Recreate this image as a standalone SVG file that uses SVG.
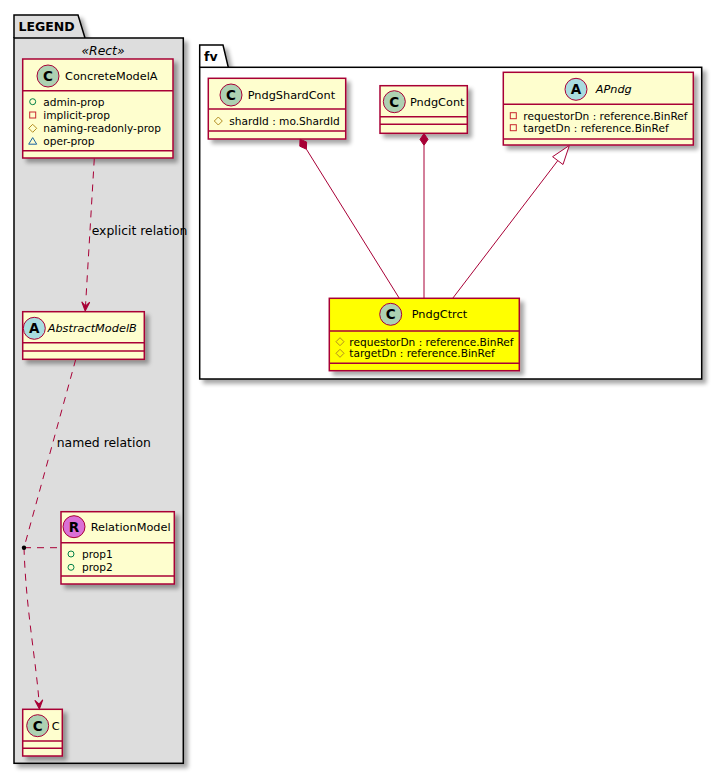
<svg xmlns="http://www.w3.org/2000/svg" width="722" height="775" viewBox="0 0 722 775">
<defs>
<filter id="sh" x="-20%" y="-20%" width="150%" height="150%">
<feGaussianBlur in="SourceAlpha" stdDeviation="2"/>
<feOffset dx="4" dy="4"/>
<feComponentTransfer><feFuncA type="linear" slope="0.35"/></feComponentTransfer>
<feMerge><feMergeNode/><feMergeNode in="SourceGraphic"/></feMerge>
</filter>
<style>
.box{fill:#FEFECE;stroke:#A80036;stroke-width:1.5;filter:url(#sh)}
.ybox{fill:#FFFF00;stroke:#A80036;stroke-width:1.5;filter:url(#sh)}
.div{stroke:#A80036;stroke-width:1.5}
.pkg{stroke:#000000;stroke-width:1.5}
.cC{fill:#ADD1B2;stroke:#A80036;stroke-width:1}
.cA{fill:#A9DCDF;stroke:#A80036;stroke-width:1}
.cR{fill:#DA70D6;stroke:#A80036;stroke-width:1}
.letter{font-family:"DejaVu Sans",sans-serif;font-weight:bold;font-size:13.5px;text-anchor:middle;fill:#000}
.name{font-family:"DejaVu Sans",sans-serif;font-size:11.3px;fill:#000}
.it{font-style:italic}
.attr{font-family:"DejaVu Sans",sans-serif;font-size:10.6px;fill:#000}
.lbl{font-family:"DejaVu Sans",sans-serif;font-size:12.4px;fill:#000}
.ptitle{font-family:"DejaVu Sans",sans-serif;font-weight:bold;font-size:12.5px;fill:#000}
.pub{fill:none;stroke:#038048;stroke-width:1}
.priv{fill:none;stroke:#C82930;stroke-width:1}
.prot{fill:none;stroke:#B38D22;stroke-width:1}
.pack{fill:none;stroke:#1963A0;stroke-width:1}
.dash{fill:none;stroke:#A80036;stroke-width:1;stroke-dasharray:7,6}
.solid{fill:none;stroke:#A80036;stroke-width:1}
.head{fill:#A80036;stroke:#A80036;stroke-width:1}
</style>
</defs>
<rect width="722" height="775" fill="#FFFFFF"/>

<g id="pkg-LEGEND">
<path class="pkg" d="M14,38 V15 H78 L85,38" fill="#DDDDDD" filter="url(#sh)"/>
<rect class="pkg" x="14" y="38" width="169.3" height="725.3" fill="#DDDDDD" filter="url(#sh)"/>
<text class="ptitle" x="18.5" y="31.2">LEGEND</text>
<text class="lbl it" x="103" y="54.5" text-anchor="middle" font-size="12">«Rect»</text>
</g>

<g id="pkg-fv">
<path class="pkg" d="M199.7,67.3 V45 H223 L228.3,67.3" fill="#FFFFFF" filter="url(#sh)"/>
<rect class="pkg" x="199.7" y="67.3" width="502" height="311.7" fill="#FFFFFF" filter="url(#sh)"/>
<text class="ptitle" x="204" y="61">fv</text>
</g>

<g id="ConcreteModelA">
<rect class="box" x="22.7" y="59" width="150.3" height="99"/>
<line class="div" x1="22.7" y1="90.7" x2="173" y2="90.7"/>
<line class="div" x1="22.7" y1="150.7" x2="173" y2="150.7"/>
<circle class="cC" cx="48" cy="76" r="11"/>
<text class="letter" x="48" y="80.8">C</text>
<text class="name" x="65" y="80">ConcreteModelA</text>
<circle class="pub" cx="32.7" cy="101.7" r="3"/>
<text class="attr" x="43.3" y="105.5">admin-prop</text>
<rect class="priv" x="29.7" y="112" width="6" height="6"/>
<text class="attr" x="43.3" y="118.8">implicit-prop</text>
<polygon class="prot" points="32.7,124.3 36.7,128.3 32.7,132.3 28.7,128.3"/>
<text class="attr" x="43.3" y="132.1">naming-readonly-prop</text>
<polygon class="pack" points="32.7,137.6 36.7,144.2 28.7,144.2"/>
<text class="attr" x="43.3" y="144.8">oper-prop</text>
</g>

<g id="AbstractModelB">
<rect class="box" x="22.7" y="311.7" width="121.6" height="47.6"/>
<line class="div" x1="22.7" y1="342.7" x2="144.3" y2="342.7"/>
<line class="div" x1="22.7" y1="351" x2="144.3" y2="351"/>
<circle class="cA" cx="34.3" cy="328.3" r="11"/>
<text class="letter" x="34.3" y="333.1">A</text>
<text class="name it" x="47.7" y="332.3">AbstractModelB</text>
</g>

<g id="RelationModel">
<rect class="box" x="61" y="511.7" width="113.3" height="72.3"/>
<line class="div" x1="61" y1="542.7" x2="174.3" y2="542.7"/>
<line class="div" x1="61" y1="576" x2="174.3" y2="576"/>
<circle class="cR" cx="74" cy="526.7" r="11"/>
<text class="letter" x="74" y="531.5">R</text>
<text class="name" x="90.7" y="530.7">RelationModel</text>
<circle class="pub" cx="71" cy="554" r="3"/>
<text class="attr" x="82" y="557.8">prop1</text>
<circle class="pub" cx="71" cy="567.3" r="3"/>
<text class="attr" x="82" y="571.1">prop2</text>
</g>

<g id="C">
<rect class="box" x="22.7" y="709.3" width="39.6" height="46.7"/>
<line class="div" x1="22.7" y1="741" x2="62.3" y2="741"/>
<line class="div" x1="22.7" y1="748.3" x2="62.3" y2="748.3"/>
<circle class="cC" cx="37.7" cy="725.7" r="11"/>
<text class="letter" x="37.7" y="730.5">C</text>
<text class="name" x="51.7" y="729.7">C</text>
</g>

<g id="PndgShardCont">
<rect class="box" x="208.3" y="78.3" width="137.4" height="60.7"/>
<line class="div" x1="208.3" y1="109" x2="345.7" y2="109"/>
<line class="div" x1="208.3" y1="131" x2="345.7" y2="131"/>
<circle class="cC" cx="231" cy="95" r="11"/>
<text class="letter" x="231" y="99.8">C</text>
<text class="name" x="247.7" y="99">PndgShardCont</text>
<polygon class="prot" points="218.3,117 222.3,121 218.3,125 214.3,121"/>
<text class="attr" x="229.3" y="124.8">shardId : mo.ShardId</text>
</g>

<g id="PndgCont">
<rect class="box" x="380" y="85.7" width="87.3" height="47.6"/>
<line class="div" x1="380" y1="116.7" x2="467.3" y2="116.7"/>
<line class="div" x1="380" y1="124.3" x2="467.3" y2="124.3"/>
<circle class="cC" cx="394.3" cy="101.7" r="11"/>
<text class="letter" x="394.3" y="106.5">C</text>
<text class="name" x="410" y="105.7">PndgCont</text>
</g>

<g id="APndg">
<rect class="box" x="503.3" y="72.3" width="190" height="72.7"/>
<line class="div" x1="503.3" y1="104.3" x2="693.3" y2="104.3"/>
<line class="div" x1="503.3" y1="139" x2="693.3" y2="139"/>
<circle class="cA" cx="576" cy="89.3" r="11"/>
<text class="letter" x="576" y="94.1">A</text>
<text class="name it" x="595.7" y="93.3">APndg</text>
<rect class="priv" x="510.3" y="112.7" width="6" height="6"/>
<text class="attr" x="523.3" y="119.5">requestorDn : reference.BinRef</text>
<rect class="priv" x="510.3" y="124.7" width="6" height="6"/>
<text class="attr" x="523.3" y="131.5">targetDn : reference.BinRef</text>
</g>

<g id="PndgCtrct">
<rect class="ybox" x="329.3" y="298.3" width="190" height="72.4"/>
<line class="div" x1="329.3" y1="331" x2="519.3" y2="331"/>
<line class="div" x1="329.3" y1="363.3" x2="519.3" y2="363.3"/>
<circle class="cC" cx="390.7" cy="314.3" r="11"/>
<text class="letter" x="390.7" y="319.1">C</text>
<text class="name" x="411.7" y="318.3">PndgCtrct</text>
<polygon class="prot" points="340,337.7 344,341.7 340,345.7 336,341.7"/>
<text class="attr" x="349.3" y="345.5">requestorDn : reference.BinRef</text>
<polygon class="prot" points="340,349.3 344,353.3 340,357.3 336,353.3"/>
<text class="attr" x="349.3" y="357.1">targetDn : reference.BinRef</text>
</g>

<g id="connectors">
<path class="dash" d="M94.3,158.5 L85.5,306"/>
<polygon class="head" transform="translate(85.2,311) rotate(3.3)" points="0,0 -4,-9 0,-5 4,-9"/>
<text class="lbl" x="91.7" y="234.5">explicit relation</text>

<path class="dash" d="M75.7,359.5 L24,547.7"/>
<path class="dash" d="M24,547.7 H61"/>
<path class="dash" d="M24,547.7 C26,610 36,660 39.2,704"/>
<polygon class="head" transform="translate(39.4,709) rotate(-4)" points="0,0 -4,-9 0,-5 4,-9"/>
<circle cx="24" cy="547.7" r="2.2" fill="#000000"/>
<text class="lbl" x="56.7" y="446.5">named relation</text>

<polygon class="head" points="300,139.2 306.6,142 306.4,149.2 299.8,146.2"/>
<line class="solid" x1="306.4" y1="149.2" x2="399.3" y2="298.3"/>

<polygon class="head" points="424,133.5 428,139.4 424,145.3 420,139.4"/>
<line class="solid" x1="424" y1="145.3" x2="424" y2="298.3"/>

<line class="solid" x1="452.7" y1="298.3" x2="557.8" y2="160.6"/>
<polygon points="569.3,145.5 563,164.5 552.6,156.7" fill="#FFFFFF" stroke="#A80036" stroke-width="1"/>
</g>
</svg>
